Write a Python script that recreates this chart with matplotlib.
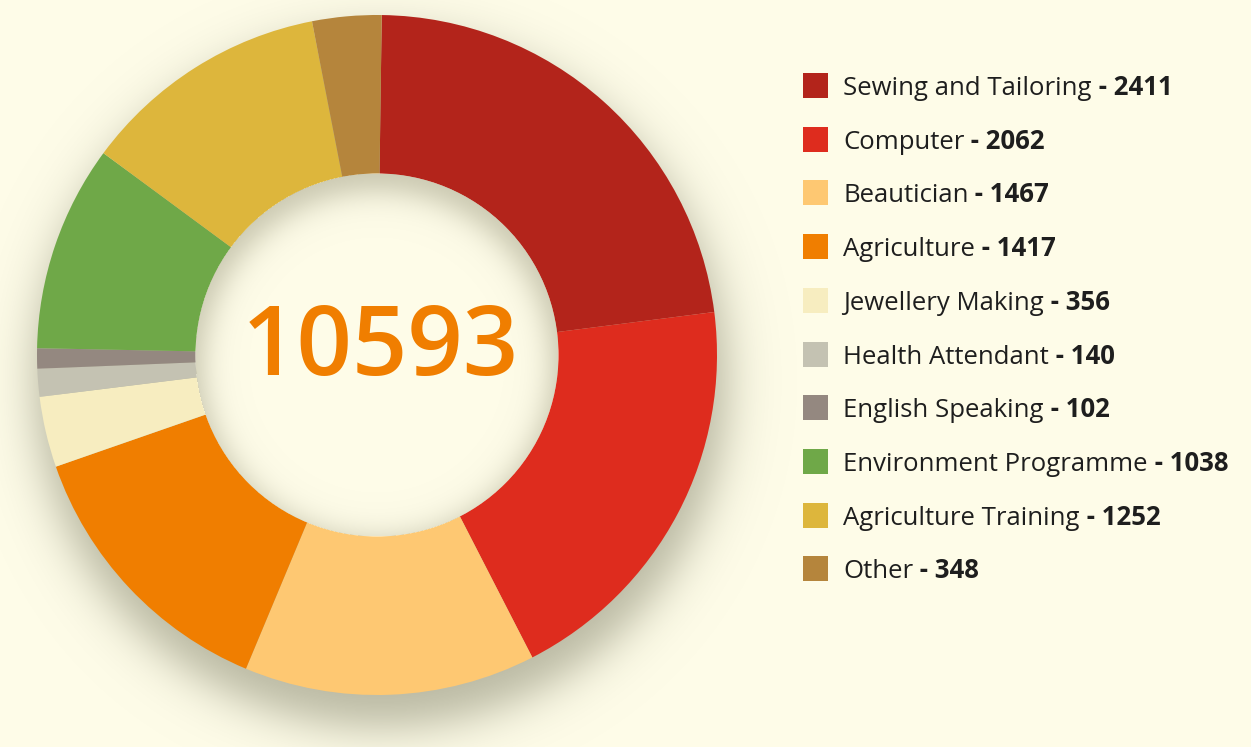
import numpy as np
import matplotlib
matplotlib.use("Agg")
import matplotlib.pyplot as plt

labels = ["Sewing and Tailoring", "Computer", "Beautician", "Agriculture",
          "Jewellery Making", "Health Attendant", "English Speaking",
          "Environment Programme", "Agriculture Training", "Other"]
values = [2411, 2062, 1467, 1417, 356, 140, 102, 1038, 1252, 348]
colors = ["#B3241B", "#DE2C1E", "#FEC872", "#F07E00", "#F7EDC0",
          "#C4C2B2", "#948880", "#6FA848", "#DDB63C", "#B5853C"]
total = sum(values)

W, H = 1251, 747
BG = "#FEFCE8"
FONT = ["Open Sans", "DejaVu Sans"]

fig = plt.figure(figsize=(W / 100, H / 100), dpi=100, facecolor=BG)
ax = fig.add_axes([0, 0, 1, 1])
ax.set_facecolor(BG)

cx, cy = 377, H - 355
R, Rin = 340, 181

# drop shadow (blurred disk, offset downward)
yy, xx = np.mgrid[0:H, 0:W]
yy = H - yy - 0.5
xx = xx + 0.5
d = np.sqrt((xx - (cx + 4)) ** 2 + (yy - (cy - 26)) ** 2) - (R + 6)
a = 0.6 / (1 + np.exp(d / 14.0))
shadow = np.zeros((H, W, 4))
shadow[..., :3] = np.array([0x8A, 0x8A, 0x72]) / 255
shadow[..., 3] = a
ax.imshow(shadow, extent=(0, W, 0, H), origin="upper", zorder=0, interpolation="bilinear")

ax.pie(values, colors=colors, startangle=89.2, counterclock=False,
       center=(cx, cy), radius=R, frame=True,
       wedgeprops=dict(width=R - Rin, linewidth=0, zorder=1))

# inset shadow inside the hole (stronger at top)
rr = np.sqrt((xx - cx) ** 2 + (yy - cy) ** 2)
dd = np.sqrt((xx - cx) ** 2 + (yy - (cy - 10)) ** 2) - (Rin - 8)
ia = 0.62 / (1 + np.exp(-dd / 9.0))
ia = np.where(rr <= Rin + 0.5, ia, 0.0)
inner = np.zeros((H, W, 4))
inner[..., :3] = np.array([0xA8, 0xA6, 0x8C]) / 255
inner[..., 3] = ia
hole = plt.Circle((cx, cy), Rin + 0.5, color=BG, zorder=2, linewidth=0)
ax.add_patch(hole)
ax.imshow(inner, extent=(0, W, 0, H), origin="upper", zorder=3, interpolation="bilinear")

ax.text(cx + 3, H - 350, str(total), fontsize=70, color="#F07E00",
        ha="center", va="center", family=FONT, fontweight="semibold", zorder=5)

ax.set_xlim(0, W)
ax.set_ylim(0, H)
ax.set_aspect("equal")
ax.axis("off")

fig.canvas.draw()
renderer = fig.canvas.get_renderer()
y0, dy = 85.5, 53.7
for i, (lab, v, c) in enumerate(zip(labels, values, colors)):
    yc = y0 + dy * i
    ax.add_patch(plt.Rectangle((803, H - yc - 12.5), 25, 25, facecolor=c,
                               edgecolor="none", zorder=5))
    t = ax.text(843, H - yc - 9.5, lab, fontsize=18.5, color="#1E1E1E",
                ha="left", va="baseline", family=FONT, zorder=5)
    bb = t.get_window_extent(renderer)
    ax.text(bb.x1, H - yc - 9.5, f" - {v}", fontsize=18.5, color="#1E1E1E",
            fontweight="bold", ha="left", va="baseline", family=FONT, zorder=5)

fig.savefig("out.png", dpi=100, facecolor=BG)
